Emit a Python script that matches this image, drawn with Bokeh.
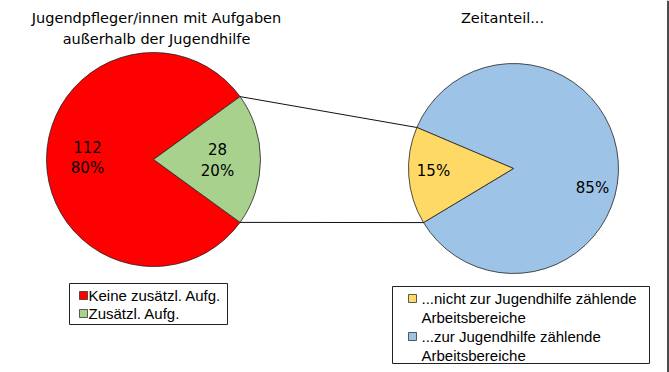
import math
from bokeh.plotting import figure
from bokeh.models import Range1d
from bokeh.core.properties import value
from bokeh.embed import file_html
from bokeh.resources import INLINE

# ---- data ----
left_title = ["Jugendpfleger/innen mit Aufgaben", "außerhalb der Jugendhilfe"]
left_categories = ["Keine zusätzl. Aufg.", "Zusätzl. Aufg."]
left_values = [112, 28]
left_colors = ["#FF0000", "#A9D18E"]

right_title = "Zeitanteil..."
right_categories = ["...nicht zur Jugendhilfe zählende\nArbeitsbereiche",
                    "...zur Jugendhilfe zählende\nArbeitsbereiche"]
right_values = [15, 85]
right_colors = ["#FFD966", "#9DC3E6"]

W, H = 669, 372
FONT = value("DejaVu Sans")
LFONT = value("Liberation Sans")

p = figure(width=W, height=H, output_backend="svg", toolbar_location=None,
           x_range=Range1d(0, W), y_range=Range1d(0, H), min_border=0)
p.axis.visible = False
p.grid.visible = False
p.outline_line_color = None
p.background_fill_color = "white"


def X(rx):
    return rx


def Y(ry):
    return H - ry


# right frame edge
p.segment(x0=[X(667.5)], y0=[Y(0)], x1=[X(667.5)], y1=[Y(372)],
          line_color="#111111", line_width=1.5)

# ---- left pie ----
lcx, lcy, lr = X(153), Y(159), 107
ltot = sum(left_values)
g_span = 2 * math.pi * left_values[1] / ltot
g_start, g_end = -g_span / 2, g_span / 2
p.wedge(x=lcx, y=lcy, radius=lr, start_angle=g_end, end_angle=g_start + 2 * math.pi,
        fill_color=left_colors[0], line_color="#222222", line_width=0.8)
p.wedge(x=lcx, y=lcy, radius=lr, start_angle=g_start, end_angle=g_end,
        fill_color=left_colors[1], line_color="#222222", line_width=0.8)

# ---- right pie ----
rcx, rcy, rr = X(513), Y(168), 105
rtot = sum(right_values)
y_span = 2 * math.pi * right_values[0] / rtot
y_start = math.radians(157)
y_end = y_start + y_span
p.wedge(x=rcx, y=rcy, radius=rr, start_angle=y_end, end_angle=y_start + 2 * math.pi,
        fill_color=right_colors[1], line_color="#222222", line_width=0.8)
p.wedge(x=rcx, y=rcy, radius=rr, start_angle=y_start, end_angle=y_end,
        fill_color=right_colors[0], line_color="#222222", line_width=0.8)

# ---- connector lines ----
p.segment(x0=[lcx + lr * math.cos(g_end), lcx + lr * math.cos(g_start)],
          y0=[lcy + lr * math.sin(g_end), lcy + lr * math.sin(g_start)],
          x1=[rcx + rr * math.cos(y_start), rcx + rr * math.cos(y_end)],
          y1=[rcy + rr * math.sin(y_start), rcy + rr * math.sin(y_end)],
          line_color="#111111", line_width=1)

# ---- slice labels ----
lpct = [round(100 * v / ltot) for v in left_values]
rpct = [round(100 * v / rtot) for v in right_values]
p.text(x=[X(87), X(87), X(217), X(217)], y=[Y(146), Y(167), Y(148), Y(170)],
       text=[str(left_values[0]), f"{lpct[0]}%", str(left_values[1]), f"{lpct[1]}%"],
       text_font=FONT, text_font_size="15px", text_align="center",
       text_baseline="middle", text_color="black")
p.text(x=[X(433), X(592)], y=[Y(170), Y(187)],
       text=[f"{rpct[0]}%", f"{rpct[1]}%"],
       text_font=FONT, text_font_size="15px", text_align="center",
       text_baseline="middle", text_color="black")

# ---- titles ----
p.text(x=[X(156), X(156)], y=[Y(17), Y(38)], text=left_title,
       text_font=FONT, text_font_size="14.5px", text_align="center",
       text_baseline="middle", text_color="black")
p.text(x=[X(502)], y=[Y(17)], text=[right_title],
       text_font=FONT, text_font_size="14.5px", text_align="center",
       text_baseline="middle", text_color="black")

# ---- legends ----
p.quad(left=[X(69)], right=[X(227)], top=[Y(283)], bottom=[Y(324)],
       fill_color="white", line_color="#222222", line_width=1)
p.rect(x=[X(83), X(83)], y=[Y(295), Y(313)], width=8, height=8,
       fill_color=left_colors, line_color="#333333", line_width=0.8)
p.text(x=[X(88), X(88)], y=[Y(295), Y(313)], text=left_categories,
       text_font=LFONT, text_font_size="15px", text_align="left",
       text_baseline="middle", text_color="black")

p.quad(left=[X(392)], right=[X(649)], top=[Y(286)], bottom=[Y(363)],
       fill_color="white", line_color="#222222", line_width=1)
p.rect(x=[X(412), X(412)], y=[Y(298), Y(336)], width=8, height=8,
       fill_color=right_colors, line_color="#333333", line_width=0.8)
item_top = [298, 336]
lx, ly, lt = [], [], []
for top, cat in zip(item_top, right_categories):
    for i, line in enumerate(cat.split("\n")):
        lx.append(X(421))
        ly.append(Y(top + 18.5 * i))
        lt.append(line)
p.text(x=lx, y=ly, text=lt,
       text_font=LFONT, text_font_size="15px", text_align="left",
       text_baseline="middle", text_color="black")

open("out.html", "w").write(file_html(p, INLINE))
